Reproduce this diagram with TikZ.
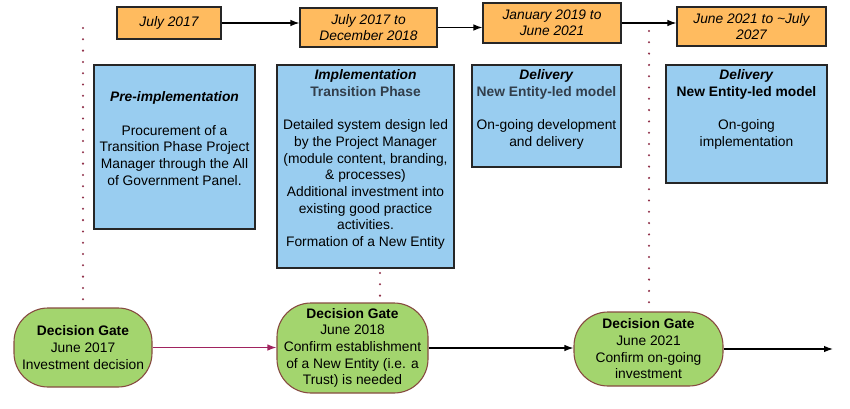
\documentclass[tikz,border=0pt]{standalone}
\usepackage{fontspec}
\setmainfont{Liberation Sans}
\usetikzlibrary{positioning,arrows.meta}

\definecolor{datefill}{RGB}{255,187,95}
\definecolor{phasefill}{RGB}{153,205,240}
\definecolor{gatefill}{RGB}{163,213,110}
\definecolor{gateline}{RGB}{135,75,65}
\definecolor{dotline}{RGB}{145,50,75}
\definecolor{linkred}{RGB}{160,35,95}
\definecolor{subtitle}{RGB}{50,62,75}

\tikzset{
  txt/.style={font=\fontsize{13.8}{16.7}\selectfont, align=center, inner sep=0pt},
  datebox/.style={txt, draw=black!85, fill=datefill, line width=1.1pt, font=\fontsize{13.8}{16}\selectfont\itshape},
  phasebox/.style={draw=black!85, fill=phasefill, line width=1.1pt, inner sep=0pt},
  gatebox/.style={txt, draw=gateline, fill=gatefill, line width=1.1pt, rounded corners=34pt},
  dotty/.style={dotline, line width=2.3pt, line cap=round, dash pattern=on 0pt off 11.3pt},
  link/.style={-{Latex[length=9pt,width=6.5pt]}, line width=1.2pt}
}

\begin{document}
\begin{tikzpicture}[x=1pt,y=-1pt]
\useasboundingbox (0,0) rectangle (850,408);

%Guides
\coordinate (top1) at (83,28);
\coordinate (top2) at (380,273);
\coordinate (top3) at (649,31);
\coordinate (end) at (833,349);

%Dates
\node[datebox, minimum width=104pt, minimum height=32pt] (d1) at (169,23) {July 2017};
\node[datebox, minimum width=137pt, minimum height=39pt] (d2) at (368.5,27.5) {July 2017 to\\December 2018};
\node[datebox, minimum width=138pt, minimum height=40pt] (d3) at (552,23) {January 2019 to\\June 2021};
\node[datebox, minimum width=149pt, minimum height=39pt] (d4) at (751.5,26.5) {June 2021 to \textasciitilde July\\2027};

\draw[link] (d1.east) -- (d1.east -| d2.west);
\draw[link] (d2.east) -- (d2.east -| d3.west);
\draw[link] (d3.east) -- (d3.east -| d4.west);

%Dotted markers
\draw[dotty] (top1) -- (top1 |- 0,306);
\draw[dotty] (top3) -- (top3 |- 0,310);

%Phases
\node[phasebox, minimum width=161pt, minimum height=164pt] (p1) at (174.5,147) {};
\node[txt, below=27pt of p1.north] (p1txt) {\textbf{\textit{Pre-implementation}}\\[16.7pt]Procurement of a\\Transition Phase Project\\Manager through the All\\of Government Panel.};

\node[phasebox, minimum width=177pt, minimum height=203pt] (p2) at (365.5,166.5) {};
\node[txt, below=5pt of p2.north] (p2txt) {\textbf{\textit{Implementation}}\\\textcolor{subtitle}{\textbf{Transition Phase}}\\[16.7pt]Detailed system design led\\by the Project Manager\\(module content, branding,\\\& processes)\\Additional investment into\\existing good practice\\activities.\\Formation of a New Entity};

\node[phasebox, minimum width=149pt, minimum height=102pt] (p3) at (546.5,116) {};
\node[txt, below=5pt of p3.north] (p3txt) {\textbf{\textit{Delivery}}\\\textcolor{subtitle}{\textbf{New Entity-led model}}\\[16.7pt]On-going development\\and delivery};

\node[phasebox, minimum width=161pt, minimum height=118pt] (p4) at (746.5,124) {};
\node[txt, below=5pt of p4.north] (p4txt) {\textbf{\textit{Delivery}}\\\textbf{New Entity-led model}\\[16.7pt]On-going\\implementation};

\draw[dotty] (top2) -- (top2 |- 0,302);

%Gates
\node[gatebox, minimum width=138pt, minimum height=79pt] (g1) at (83,347.5) {\textbf{Decision Gate}\\June 2017\\Investment decision};
\node[gatebox, minimum width=151pt, minimum height=90pt] (g2) at (352.5,348) {\textbf{Decision Gate}\\June 2018\\Confirm establishment\\of a New Entity (i.e. a\\Trust) is needed};
\node[gatebox, minimum width=149pt, minimum height=74pt] (g3) at (648.5,349) {\textbf{Decision Gate}\\June 2021\\Confirm on-going\\investment};

\draw[link, linkred] (g1.east) -- (g1.east -| g2.west);
\draw[link] (g2.east) -- (g2.east -| g3.west);
\draw[link] (g3.east) -- (g3.east -| end);

\end{tikzpicture}
\end{document}
